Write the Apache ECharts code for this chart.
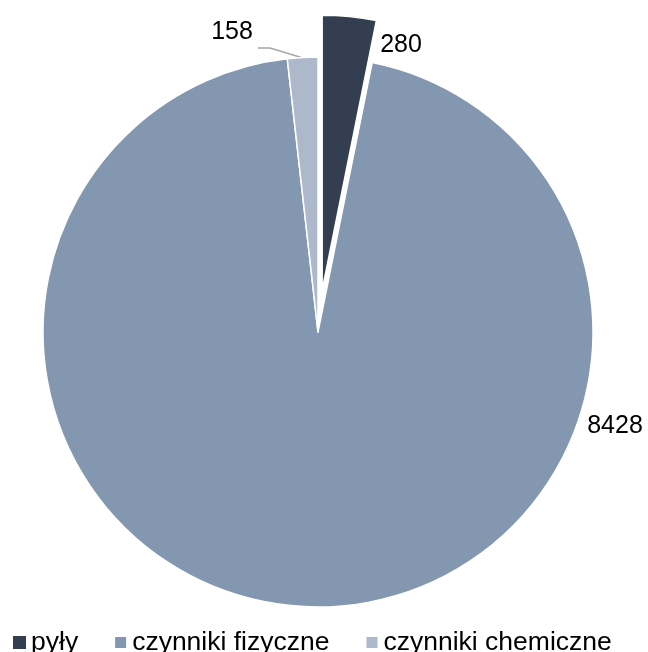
<!DOCTYPE html>
<html>
<head>
<meta charset="utf-8">
<script src="https://cdn.jsdelivr.net/npm/echarts@6/dist/echarts.min.js"></script>
<style>html,body{margin:0;padding:0;background:#fff}#c{width:648px;height:652px}</style>
</head>
<body>
<div id="c"></div>
<script>
var categories = ['pyły', 'czynniki fizyczne', 'czynniki chemiczne'];
var values = [280, 8428, 158];
var colors = ['#333f50', '#8497b0', '#adb9ca'];
var explodedIndex = 0;
var explodeDistance = 42;

var center = [318, 332];
var total = values.reduce(function (a, b) { return a + b; }, 0);
var before = 0;
for (var k = 0; k < explodedIndex; k++) before += values[k];
var midAngle = (before + values[explodedIndex] / 2) / total * 2 * Math.PI;
var shiftedCenter = [center[0] + explodeDistance * Math.sin(midAngle),
                     center[1] - explodeDistance * Math.cos(midAngle)];

var chart = echarts.init(document.getElementById('c'), null, {renderer: 'canvas'});

var baseData = categories.map(function (n, i) {
  var d = {name: n, value: values[i],
    itemStyle: {color: i === explodedIndex ? 'rgba(0,0,0,0)' : colors[i],
                borderColor: i === explodedIndex ? 'rgba(0,0,0,0)' : '#fff'}};
  if (i !== 2) d.labelLine = {show: false};
  return d;
});
var explodedData = categories.map(function (n, i) {
  return {name: n, value: values[i],
    itemStyle: {color: i === explodedIndex ? colors[i] : 'rgba(0,0,0,0)',
                borderColor: i === explodedIndex ? '#fff' : 'rgba(0,0,0,0)'}};
});

chart.setOption({
  animation: false,
  legend: {
    data: categories.map(function (n, i) { return {name: n, itemStyle: {color: colors[i]}}; }),
    left: 7,
    top: 624,
    itemWidth: 13,
    itemHeight: 13,
    itemGap: 35,
    icon: 'rect',
    textStyle: {fontFamily: 'Liberation Sans, Arial', fontSize: 26.5, color: '#000'},
    selectedMode: false
  },
  series: [{
    type: 'pie',
    center: center,
    radius: [0, 275],
    startAngle: 90,
    clockwise: true,
    avoidLabelOverlap: false,
    silent: true,
    itemStyle: {borderColor: '#fff', borderWidth: 1.5},
    label: {
      show: true,
      formatter: '{c}',
      fontFamily: 'Liberation Sans, Arial',
      fontSize: 25,
      color: '#000'
    },
    labelLine: {show: true, lineStyle: {color: '#a6a6a6', width: 1.5}},
    emphasis: {disabled: true},
    labelLayout: function (p) {
      var w = p.labelRect.width, h = p.labelRect.height;
      var pos = [[401, 45], [615, 426], [232, 32]][p.dataIndex];
      var r = {x: pos[0] - w / 2, y: pos[1] - h / 2, align: 'left', verticalAlign: 'top'};
      if (p.dataIndex === 2) r.labelLinePoints = [[303, 58], [270, 48], [258, 48]];
      return r;
    },
    data: baseData
  }, {
    type: 'pie',
    center: shiftedCenter,
    radius: [0, 275],
    startAngle: 90,
    clockwise: true,
    silent: true,
    itemStyle: {borderWidth: 1.5},
    label: {show: false},
    labelLine: {show: false},
    emphasis: {disabled: true},
    data: explodedData
  }]
});
</script>
</body>
</html>
